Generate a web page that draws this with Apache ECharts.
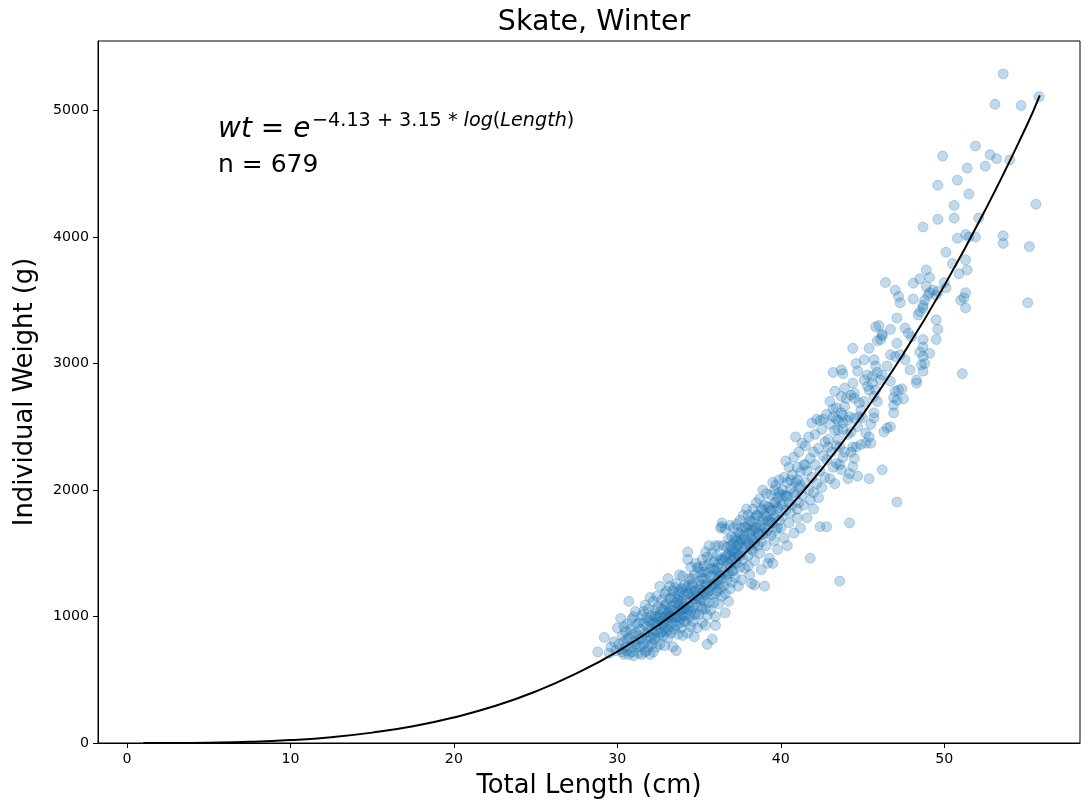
<!DOCTYPE html>
<html><head><meta charset="utf-8">
<script src="https://cdn.jsdelivr.net/npm/echarts@6/dist/echarts.min.js"></script>
<style>html,body{margin:0;padding:0;background:#fff}#c{width:1081px;height:807px}</style>
</head><body><div id="c"></div>
<script>
const chartTitle = 'Skate, Winter';
const xAxisName = 'Total Length (cm)';
const yAxisName = 'Individual Weight (g)';
const xTicks = [0, 10, 20, 30, 40, 50];
const yTicks = [0, 1000, 2000, 3000, 4000, 5000];
const formulaMain = '{i|wt} = {i|e}';
const formulaSup = '−4.13 + 3.15 * {i|log}({i|Length})';
const countText = 'n = 679';

const fitCurve = [[1,0.02],[2.5,0.3],[5,2.6],[7.5,9],[10,23],[12.5,46],[15,82],[17.5,132],[20,202],[22.5,292],[25,407],[27.5,550],[30,723],[32.5,931],[35,1176],[37.5,1462],[40,1790],[42.5,2165],[45,2594],[47.5,3078],[50,3616],[52.5,4213],[55,4870],[55.84,5120]];

const pointsCore = [
[28.8,720],[29.2,835],[29.5,710],[29.6,760],[29.8,800],[29.9,730],
[30.0,910],[30.1,780],[30.2,985],[30.3,720],[30.3,850],[30.4,700],[30.4,800],[30.5,760],[30.5,880],[30.6,730],[30.6,940],[30.2,740],[30.7,1120],
[30.7,700],[30.7,830],[30.8,760],[30.8,900],[30.9,720],[30.9,980],[31.0,800],[31.0,690],[31.1,870],[31.1,1040],[31.2,760],[31.2,940],[31.3,710],[31.3,850],[31.0,1000],
[31.4,760],[31.4,900],[31.5,1010],[31.5,700],[31.5,830],[31.6,950],[31.6,780],[31.7,1090],[31.7,870],[31.7,720],[31.8,990],[31.8,810],[31.8,920],[31.9,760],[31.9,1060],[31.9,880],[32.0,700],[32.0,960],[32.0,840],[32.0,1150],
[32.1,780],[32.1,900],[32.1,1010],[32.2,860],[32.2,1120],[32.2,720],[32.3,950],[32.3,820],[32.3,1050],[32.4,1160],[32.4,890],[32.4,760],[32.5,990],[32.5,1080],[32.5,840],[32.5,930],[32.6,1240],[32.6,780],[32.6,1010],[32.7,880],[32.7,1130],[32.7,960],[32.4,1000],[32.2,950],
[32.8,1050],[32.8,850],[32.8,940],[32.9,1180],[32.9,770],[32.9,1000],[33.0,880],[33.0,1100],[33.0,960],[33.1,1300],[33.1,830],[33.1,1030],[33.2,1240],[33.2,920],[33.2,1140],[33.3,990],[33.3,870],[33.3,1080],[33.4,1200],[33.4,760],[33.4,950],[33.0,1200],[33.2,1060],[33.3,1010],[32.9,910],[33.1,980],
[33.5,1050],[33.5,900],[33.5,1150],[33.6,730],[33.6,990],[33.6,1260],[33.7,1090],[33.7,860],[33.7,1180],[33.8,950],[33.8,1330],[33.8,1040],[33.9,1120],[33.9,910],[33.9,1220],[34.0,1000],[34.0,1320],[34.0,850],[34.0,1100],[34.1,1170],[34.1,960],[34.1,1250],[33.6,1110],[33.8,1200],[33.9,1050],[34.0,1060],[33.7,1000],[34.1,1070],
[34.2,1130],[34.2,960],[34.2,1230],[34.3,1510],[34.3,1450],[34.3,1050],[34.3,870],[34.4,1180],[34.4,1300],[34.4,1000],[34.5,1120],[34.5,1390],[34.5,920],[34.6,1250],[34.6,1070],[34.6,1160],[34.7,840],[34.7,1330],[34.7,1010],[34.8,1200],[34.8,1100],[34.8,1420],[34.4,1080],[34.5,1220],[34.6,960],[34.7,1140],[34.9,1390],[34.9,910],
[35.0,1280],[35.0,1140],[35.0,1020],[35.1,1210],[35.1,1350],[35.1,1080],[35.2,1180],[35.2,1450],[35.2,950],[35.3,1300],[35.3,1120],[35.3,1400],[35.4,1250],[35.4,930],[35.4,1060],[35.4,1510],[35.5,1190],[35.5,1340],[35.5,1010],[35.5,780],[35.0,1380],[35.1,1250],[35.2,1300],[35.3,1200],[35.6,1560],[35.6,1110],[35.6,1420],[35.5,1470],
[35.7,1240],[35.7,1380],[35.7,1050],[35.8,1500],[35.8,1170],[35.8,820],[35.9,1320],[35.9,1430],[35.9,1110],[36.0,1260],[36.0,1560],[36.0,1000],[36.0,1370],[36.1,1200],[36.1,1480],[36.1,1290],[36.2,1100],[36.2,1420],[36.2,1560],[36.3,1320],[36.3,1220],[36.3,1700],[36.4,1740],[36.4,1450],[36.4,1160],[36.0,930],[35.9,1260],[36.2,1340],[36.4,1710],
[36.5,1350],[36.5,1560],[36.5,1240],[36.6,1470],[36.6,1690],[36.6,1180],[36.7,1400],[36.7,1290],[36.7,1550],[36.8,1610],[36.8,1340],[36.8,1120],[36.9,1480],[36.9,1720],[36.9,1390],[37.0,1270],[37.0,1530],[37.0,1440],[37.1,1700],[37.1,1360],[37.1,1580],[36.6,1030],[36.8,1500],[37.0,1630],[36.9,1220],[37.1,1470],
[37.2,1500],[37.2,1620],[37.2,1310],[37.3,1730],[37.3,1420],[37.3,1560],[37.4,1240],[37.4,1660],[37.4,1480],[37.5,1760],[37.5,1390],[37.5,1580],[37.6,1700],[37.6,1510],[37.6,1290],[37.7,1640],[37.7,1800],[37.7,1450],[37.8,1550],[37.8,1710],[37.8,1380],[37.9,1850],[37.5,1650],[37.3,1600],
[37.9,1600],[38.0,1480],[38.0,1720],[38.0,1800],[38.1,1560],[38.1,1660],[38.1,1330],[38.2,1260],[38.2,1750],[38.2,1620],[38.3,1520],[38.3,1850],[38.3,1680],[38.4,1580],[38.4,1780],[38.4,1440],[38.5,1700],[38.5,1900],[38.5,1620],[38.2,1530],[38.0,1400],[38.4,1250],
[38.6,1660],[38.6,1800],[38.7,1500],[38.7,1720],[38.7,1930],[38.8,1590],[38.8,1850],[38.8,1370],[38.9,1760],[38.9,1650],[39.0,1240],[39.0,1880],[39.0,1700],[39.1,1970],[39.1,1560],[39.1,1790],[39.2,1680],[39.2,1870],[39.2,1420],[38.9,2000],
[39.3,1460],[39.3,1760],[39.4,1960],[39.4,1840],[39.4,1640],[39.5,1420],[39.5,1740],[39.5,2060],[39.6,1900],[39.6,1600],[39.7,2040],[39.7,1800],[39.7,1680],[39.8,1940],[39.8,1530],[39.8,1860],[39.9,1760],[39.9,2080],[39.9,1980],[39.6,1780]
];

const pointsCoreExtra = [
[30.4,920],[30.6,820],[30.9,860],[31.1,780],[31.3,950],[31.4,820],[31.6,1040],[31.8,730],[31.9,970],[32.1,830],[32.3,1000],[32.4,930],[32.6,870],[32.7,1060],[32.8,990],[32.9,1090],[33.0,1010],[33.1,900],[33.2,1000],[33.3,1150],
[33.4,1050],[33.5,990],[33.5,1230],[33.6,930],[33.7,1130],[33.8,1100],[33.9,990],[34.0,1190],[34.1,1010],[34.2,1060],[34.3,1180],[34.4,1250],[34.5,1040],[34.6,1300],[34.7,1200],[34.8,1020],[34.9,1160],[35.0,1220],[35.1,1130],[35.2,1060],
[35.3,1350],[35.4,1170],[35.5,1260],[35.6,1200],[35.7,1320],[35.8,1250],[35.9,1380],[36.0,1180],[36.1,1380],[36.2,1250],[36.3,1450],[36.4,1300],[36.5,1440],[36.6,1330],[36.7,1480],[36.8,1420],[36.9,1560],[37.0,1360],[37.1,1520],[37.2,1420],
[37.3,1500],[37.4,1570],[37.5,1480],[37.6,1610],[37.7,1540],[37.8,1620],[37.9,1700],[38.0,1580],[38.1,1760],[38.2,1680],[38.3,1600],[38.4,1700],[38.5,1800],[38.6,1560],[38.7,1640],[38.8,1720],[38.9,1840],[39.0,1800],[39.1,1660],[39.2,1760],
[39.3,1860],[39.4,1740],[39.5,1840],[39.6,2000],[39.7,1900],[39.8,1700],[40.0,1960],[40.1,1880],[40.4,1950],[40.6,2080],[40.8,1980],[41.0,2080],[41.2,2040],[41.5,2200]
];

const pointsMid = [
[40.0,1880],[40.0,1700],[40.1,2000],[40.1,1790],[40.2,2100],[40.2,1620],[40.3,1950],[40.3,2230],[40.3,1840],[40.4,1560],[40.4,2060],[40.5,1900],[40.5,2180],[40.5,1740],[40.6,2010],[40.6,1820],[40.2,1960],[40.9,2420],
[40.7,2120],[40.7,1880],[40.8,1660],[40.8,2260],[40.9,1960],[40.9,2060],[41.0,1780],[41.0,2180],[41.1,1900],[41.1,2300],[41.1,2020],[41.2,1700],[41.2,2140],[41.3,1960],[41.3,2370],[41.0,1850],
[41.4,2200],[41.4,1880],[41.5,2060],[41.5,2350],[41.6,1780],[41.6,2150],[41.7,2000],[41.7,2420],[41.8,1460],[41.8,1920],[41.8,2250],[41.9,2100],[41.9,2530],[42.0,1980],[42.0,2300],[42.0,1850],
[42.1,2200],[42.1,2440],[42.2,2050],[42.2,2560],[42.3,1940],[42.3,2330],[42.4,2150],[42.4,1710],[42.5,2480],[42.5,2020],[42.6,2270],[42.6,2560],[42.7,2100],[42.7,2380],[42.8,1710],[42.4,2550],
[42.8,2600],[42.8,2240],[42.9,2400],[43.0,2090],[43.0,2520],[43.1,2300],[43.2,2930],[43.2,2180],[43.2,2640],[43.3,2470],[43.3,2050],[43.4,2560],[43.4,2350],[43.0,2700],[43.3,2780],[42.9,2340],
[43.5,2550],[43.5,2400],[43.6,2200],[43.6,1280],[43.7,2950],[43.7,2740],[43.7,2610],[43.8,2920],[43.8,2480],[43.9,2805],[43.9,2660],[43.9,2300],[44.0,2725],[44.1,2440],[44.1,2090],
[44.2,2580],[44.2,1740],[44.3,2750],[44.3,2460],[44.4,2845],[44.4,3120],[44.5,2765],[44.5,2725],[44.5,2570],[44.5,2250],[44.6,3000],[44.7,2940],[44.7,2500],[44.7,2110],[44.8,2690],[44.8,2580],[44.9,2630],
[45.0,2570],[45.1,3030],[45.1,2870],[45.1,2700],[45.3,2910],[45.3,2820],[45.4,3120],[45.4,2790],[45.6,2900],[45.6,2845],[45.7,3030],[45.7,2740],[45.7,2610],[45.7,2570],[45.8,3290],[45.8,2980],[45.8,2790],[45.9,3180],[45.9,2930],[45.9,2700],
[46.0,3300],[46.1,3190],[46.2,3230],[44.9,2360],[45.2,2450],[45.5,2520],[46.2,2160],[47.1,1905],
[43.2,2580],[43.8,2530],[43.5,2475],[44.4,2340],[45.5,2370],[46.3,2460],[43.6,2340],[44.3,2300],[44.6,2340],[45.2,2370],[45.4,2420],[43.8,2260],[44.4,2185],[43.4,2210],[43.7,2160],[44.2,2130],[45.4,2090],[43.4,2650],[43.8,2590],[44.1,2550]
];

const pointsUpper = [
[53.6,5290],[53.1,5050],[54.7,5040],[55.8,5110],[51.9,4720],[49.9,4640],[52.8,4650],[53.2,4620],[54.0,4610],[51.4,4545],[52.5,4560],[50.8,4450],[49.6,4410],[51.5,4340],[55.6,4260],[50.6,4250],[49.6,4140],[50.6,4150],[52.1,4150],[48.7,4080],
[51.3,4020],[51.5,4000],[51.9,4000],[50.8,3990],[53.6,4010],[53.6,3950],[55.2,3925],[50.1,3880],[51.3,3820],[50.5,3790],[51.4,3740],[48.9,3740],[50.9,3710],[49.1,3680],[50.0,3640],[55.1,3480],[51.3,3560],[51.2,3520],[51.0,3500],[51.3,3440],
[48.9,3610],[49.1,3560],[48.8,3500],[48.7,3460],[49.5,3540],[49.5,3345],[51.1,2920],[48.1,3635],[48.5,3670],[46.4,3640],[47.0,3580],[47.2,3530],[47.3,3480],[48.1,3510],[49.0,3540],[49.3,3580],[49.6,3570],[50.1,3600],[48.5,3410],[48.7,3440],
[48.4,3385],[47.1,3360],[46.7,3270],[46.2,3220],[47.6,3280],[47.8,3240],[48.0,3210],[49.6,3270],[49.5,3190],[48.7,3190],[48.7,3130],[48.5,3090],[49.1,3080],[48.7,3055],[47.1,3160],[46.7,3070],[47.0,3055],[47.3,3070],[47.6,3030],[48.6,2990],
[48.8,3000],[48.7,2940],[47.9,2950],[48.3,2870],[48.3,2845],[46.5,2980],[46.2,2910],[46.1,2870],[46.7,2860],[47.0,2780],[47.2,2790],[47.4,2800],[46.9,2730],[47.1,2710],[47.5,2720],[46.9,2670],[46.9,2610],[46.7,2500],[46.5,2490]
];

const skatePoints = pointsCore.concat(pointsCoreExtra, pointsMid, pointsUpper);

const FONT = 'DejaVu Sans';
const chart = echarts.init(document.getElementById('c'), null, {renderer: 'canvas'});
chart.setOption({
  animation: false,
  backgroundColor: '#fff',
  title: {
    text: chartTitle, left: 589, top: 3, textAlign: 'center',
    textStyle: {fontFamily: FONT, fontSize: 28.5, fontWeight: 'normal', color: '#000'}
  },
  grid: {left: 98, right: 1, top: 41, bottom: 64, show: true, borderColor: '#000', borderWidth: 1, backgroundColor: 'transparent'},
  xAxis: {
    type: 'value', min: -1.77, max: 58.3,
    name: xAxisName, nameLocation: 'middle', nameGap: 30,
    nameTextStyle: {fontFamily: FONT, fontSize: 25.8, color: '#000'},
    axisLine: {show: true, onZero: false, lineStyle: {color: '#000', width: 1}},
    axisTick: {show: true, customValues: xTicks, length: 5, lineStyle: {color: '#000', width: 1}},
    axisLabel: {customValues: xTicks, formatter: v => String(v), color: '#000', fontFamily: FONT, fontSize: 14.2, margin: 9},
    splitLine: {show: false}
  },
  yAxis: {
    type: 'value', min: 0, max: 5550,
    name: yAxisName, nameLocation: 'middle', nameGap: 60,
    nameTextStyle: {fontFamily: FONT, fontSize: 25.8, color: '#000'},
    axisLine: {show: true, onZero: false, lineStyle: {color: '#000', width: 1}},
    axisTick: {show: true, customValues: yTicks, length: 5, lineStyle: {color: '#000', width: 1}},
    axisLabel: {customValues: yTicks, formatter: v => String(v), color: '#000', fontFamily: FONT, fontSize: 14.2, margin: 9},
    splitLine: {show: false}
  },
  series: [
    {
      type: 'scatter', data: skatePoints, symbolSize: 10, z: 2,
      itemStyle: {color: 'rgba(31,119,180,0.35)', borderColor: 'rgba(31,119,180,0.35)', borderWidth: 1}
    },
    {
      type: 'line', data: fitCurve, smooth: true, showSymbol: false, z: 5,
      lineStyle: {color: '#000', width: 2}
    }
  ],
  graphic: [
    {type: 'text', x: 218, y: 130, style: {text: formulaMain, fontFamily: FONT, fontSize: 28, fill: '#000', verticalAlign: 'middle',
      rich: {i: {fontFamily: FONT, fontSize: 28, fontStyle: 'italic'}}}},
    {type: 'text', x: 312, y: 121, style: {text: formulaSup, fontFamily: FONT, fontSize: 19.2, fill: '#000', verticalAlign: 'middle',
      rich: {i: {fontFamily: FONT, fontSize: 19.2, fontStyle: 'italic'}}}},
    {type: 'text', x: 218, y: 165, style: {text: countText, fontFamily: FONT, fontSize: 25, fill: '#000', verticalAlign: 'middle'}}
  ]
});
</script></body></html>
